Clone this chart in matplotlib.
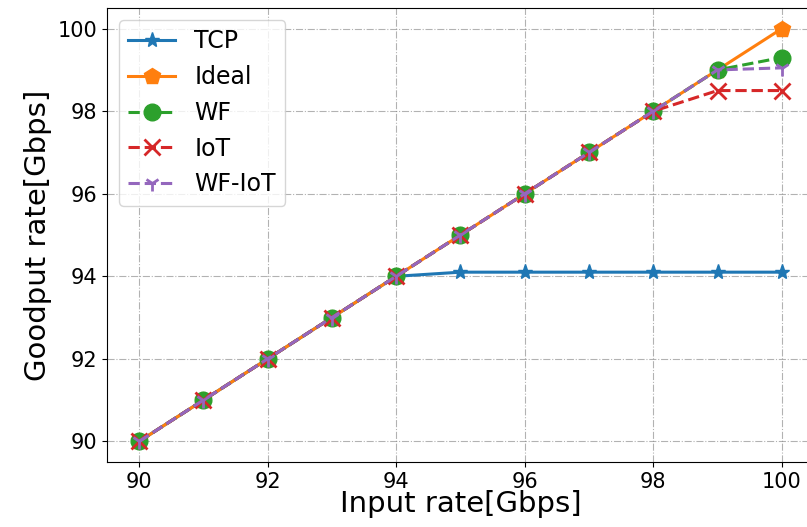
import matplotlib.pyplot as plt

# Data
x = [90, 91, 92, 93, 94, 95, 96, 97, 98, 99, 100]
tcp = [90, 91, 92, 93, 94, 94.1, 94.1, 94.1, 94.1, 94.1, 94.1]
ideal = [90, 91, 92, 93, 94, 95, 96, 97, 98, 99, 100]
wf = [90, 91, 92, 93, 94, 95, 96, 97, 98, 99, 99.3]
iot = [90, 91, 92, 93, 94, 95, 96, 97, 98, 98.5, 98.5]
wf_iot = [90, 91, 92, 93, 94, 95, 96, 97, 98, 99, 99.05]

fig = plt.figure(figsize=(8.07, 5.27), dpi=100)
ax = fig.add_axes([0.1326, 0.1233, 0.876, 0.8615])

ax.plot(x, tcp, marker="*", markersize=11, linewidth=2.2, label="TCP")
ax.plot(x, ideal, marker="p", markersize=12, linewidth=2.2, label="Ideal")
ax.plot(x, wf, marker="o", markersize=12, linewidth=2.2, linestyle="--", label="WF")
ax.plot(x, iot, marker="x", markersize=11, markeredgewidth=2, linewidth=2.2, linestyle="--", label="IoT")
ax.plot(x, wf_iot, marker="1", markersize=11, markeredgewidth=2, linewidth=2.2, linestyle="--", label="WF-IoT")

ax.set_xticks([90, 92, 94, 96, 98, 100])
ax.set_yticks([90, 92, 94, 96, 98, 100])
ax.tick_params(labelsize=15)
ax.grid(True, linestyle="-.", color="gray", alpha=0.6)

# Labels
ax.set_xlabel("Input rate[Gbps]", fontsize=21, labelpad=-1)
ax.set_ylabel("Goodput rate[Gbps]", fontsize=21)
ax.legend(fontsize=17, loc="upper left")

fig.savefig("out.png", dpi=100)
